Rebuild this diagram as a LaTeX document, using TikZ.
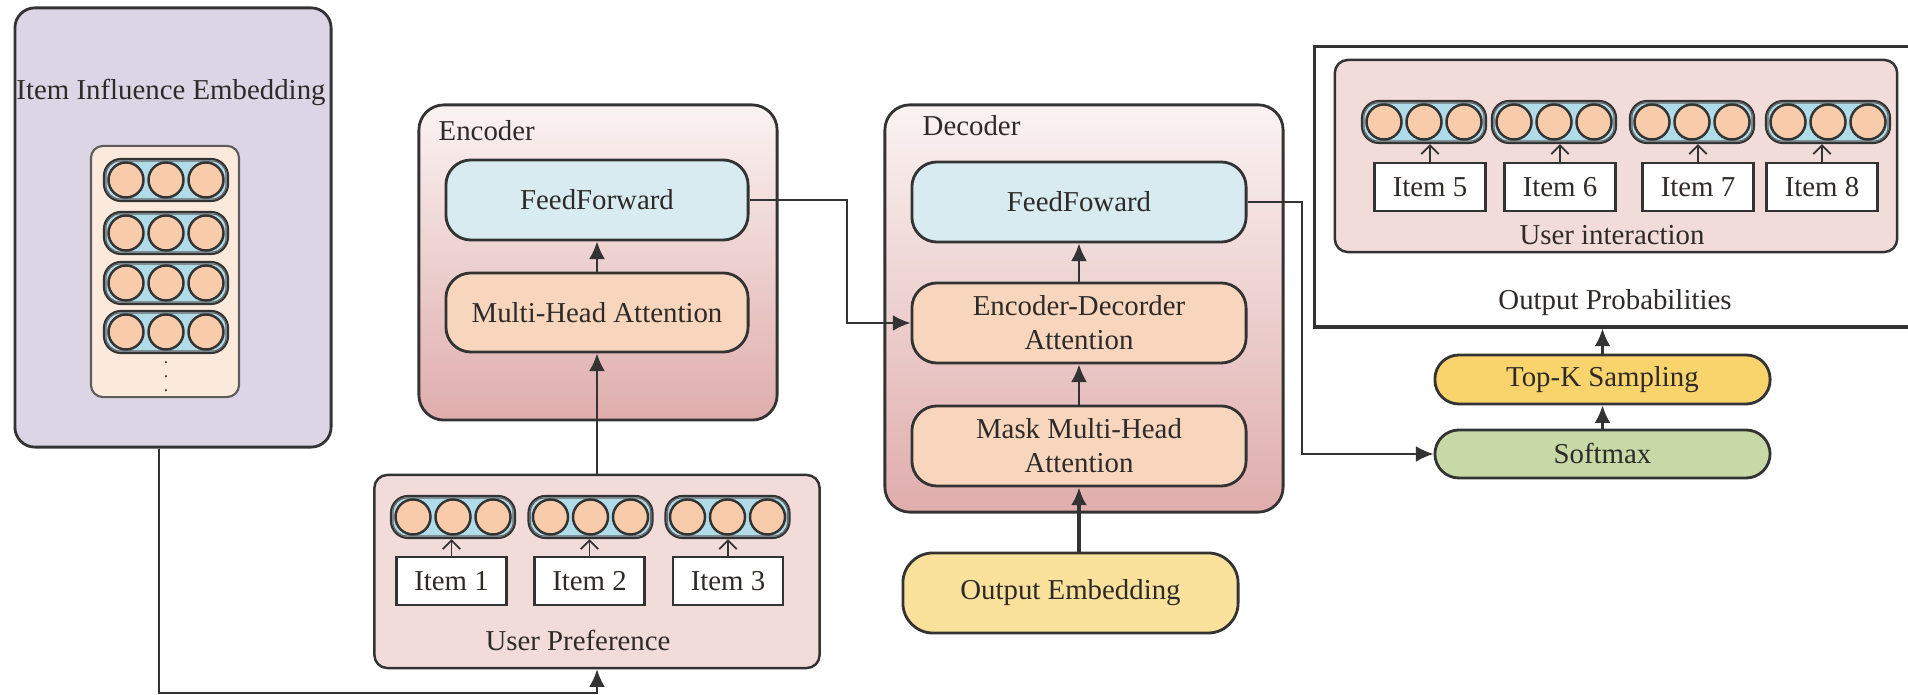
\documentclass[tikz,border=0pt]{standalone}
\usepackage{fontspec}
\setmainfont{Liberation Serif}
\usetikzlibrary{arrows.meta,calc}

\definecolor{lav}{HTML}{DCD5E6}
\definecolor{cream}{HTML}{FBEADB}
\definecolor{pillblue}{HTML}{B0DCEA}
\definecolor{bead}{HTML}{F8CCAA}
\definecolor{ffblue}{HTML}{D7EBF1}
\definecolor{attn}{HTML}{F8D6BE}
\definecolor{groupbg}{HTML}{F2DCDA}
\definecolor{encTop}{HTML}{FAF3F2}
\definecolor{encBot}{HTML}{DFADAC}
\definecolor{oemb}{HTML}{FBE29C}
\definecolor{topk}{HTML}{F9D46C}
\definecolor{smax}{HTML}{C6D9A6}
\definecolor{edge}{HTML}{333333}
\definecolor{ink}{HTML}{2E2A28}

\newcommand\fs{\fontsize{8.2}{9.6}\selectfont}

\tikzset{
  every node/.style={text=ink},
  block/.style={draw=edge, line width=0.8pt, rounded corners=0.25cm, align=center, font=\fs, inner sep=0pt},
  group/.style={draw=edge, line width=0.7pt, rounded corners=0.13cm, fill=groupbg, inner sep=0pt},
  stage/.style={draw=edge, line width=0.8pt, rounded corners=0.25cm, top color=encTop, bottom color=encBot, inner sep=0pt},
  pill/.style={draw=edge, line width=0.6pt, fill=pillblue, rounded corners=0.17cm, minimum width=1.24cm, minimum height=0.42cm, inner sep=0pt},
  beadc/.style={circle, draw=edge, line width=0.7pt, fill=bead, minimum size=0.35cm, inner sep=0pt},
  itembox/.style={draw=edge, line width=0.7pt, fill=white, minimum width=1.10cm, minimum height=0.48cm, font=\fs, inner sep=0pt},
  label/.style={font=\fs, inner sep=0pt},
  conn/.style={draw=edge, line width=0.6pt, -{Latex[length=5pt,width=4.5pt]}},
  tiny/.style={draw=edge, line width=0.5pt, -{Straight Barb[length=2.5pt,width=5pt]}},
}

% a vector of three beads in a rounded tray
\newcommand\vecrow[3]{%
  \node[pill] (#1) at (#2,#3) {};
  \draw[edge!75, line width=0.35pt, rounded corners=0.14cm]
    ($(#1.south west)+(3,-3)$) rectangle ($(#1.north east)+(-3,3)$);
  \foreach \d in {-40,0,40} \node[beadc] at ($(#1.center)+(\d,0)$) {};
}

\begin{document}
\begin{tikzpicture}[x={(0.01cm,0)}, y={(0,-0.01cm)}]
\useasboundingbox (0,0) rectangle (1908,695);

% ---------- item influence embedding ----------
\node[draw=edge, line width=0.8pt, rounded corners=0.2cm, fill=lav,
      minimum width=3.16cm, minimum height=4.39cm, inner sep=0pt] (infl) at (173,227.5) {};
\node[label] (infltitle) at (171,92) {Item Influence Embedding};
\node[draw=edge!80, line width=0.6pt, rounded corners=0.12cm, fill=cream,
      minimum width=1.48cm, minimum height=2.51cm, inner sep=0pt] (card) at (165,271.5) {};
\vecrow{r1}{166}{180}
\vecrow{r2}{166}{233}
\vecrow{r3}{166}{283}
\vecrow{r4}{166}{332}
\node[font=\fontsize{5}{5}\selectfont, inner sep=0pt] (dots) at (166,366) {$\vdots$};

% ---------- user preference ----------
\node[group, minimum width=4.45cm, minimum height=1.93cm] (up) at (597,571.5) {};
\vecrow{p1}{453}{517}
\vecrow{p2}{590.5}{517}
\vecrow{p3}{727.5}{517}
\node[itembox] (i1) at (451.5,581) {Item 1};
\node[itembox] (i2) at (589.5,581) {Item 2};
\node[itembox] (i3) at (728,581) {Item 3};
\draw[tiny] (i1.north) -- (i1.north |- p1.south);
\draw[tiny] (i2.north) -- (i2.north |- p2.south);
\draw[tiny] (i3.north) -- (i3.north |- p3.south);
\node[label] (uplabel) at (578,640) {User Preference};

% ---------- encoder ----------
\node[stage, minimum width=3.58cm, minimum height=3.15cm] (enc) at (598,262.5) {};
\node[label, anchor=west] (enclabel) at (438,131) {Encoder};
\node[block, fill=ffblue, minimum width=3.02cm, minimum height=0.80cm] (ff) at (597,200) {FeedForward};
\node[block, fill=attn, minimum width=3.02cm, minimum height=0.79cm] (mha) at (597,312.5) {Multi-Head Attention};

% ---------- decoder ----------
\node[stage, minimum width=3.98cm, minimum height=4.07cm] (dec) at (1084,308.5) {};
\node[label, anchor=west] (declabel) at (922,126) {Decoder};
\node[block, fill=ffblue, minimum width=3.34cm, minimum height=0.80cm] (dff) at (1079,202) {FeedFoward};
\node[block, fill=attn, minimum width=3.34cm, minimum height=0.80cm] (eda) at (1079,323) {Encoder-Decorder\\Attention};
\node[block, fill=attn, minimum width=3.34cm, minimum height=0.80cm] (mmha) at (1079,446) {Mask Multi-Head\\Attention};
\node[block, fill=oemb, rounded corners=0.3cm, minimum width=3.35cm, minimum height=0.80cm] (oe) at (1070.5,593) {Output Embedding};

% ---------- output side ----------
\node[block, fill=smax, rounded corners=0.24cm, minimum width=3.35cm, minimum height=0.48cm] (sm) at (1602.5,454) {Softmax};
\node[block, fill=topk, rounded corners=0.24cm, minimum width=3.35cm, minimum height=0.49cm] (tk) at (1602.5,379.5) {Top-K Sampling};
\node[draw=edge, line width=0.9pt, minimum width=5.97cm, minimum height=2.80cm, inner sep=0pt] (outbox) at (1613.5,187) {};
\node[group, minimum width=5.62cm, minimum height=1.92cm] (ui) at (1616,156) {};
\vecrow{q5}{1424}{122}
\vecrow{q6}{1554}{122}
\vecrow{q7}{1692}{122}
\vecrow{q8}{1828}{122}
\node[itembox, minimum width=1.11cm] (i5) at (1430,187) {Item 5};
\node[itembox, minimum width=1.11cm] (i6) at (1560,187) {Item 6};
\node[itembox, minimum width=1.11cm] (i7) at (1698,187) {Item 7};
\node[itembox, minimum width=1.11cm] (i8) at (1822,187) {Item 8};
\draw[tiny] (i5.north) -- (i5.north |- q5.south);
\draw[tiny] (i6.north) -- (i6.north |- q6.south);
\draw[tiny] (i7.north) -- (i7.north |- q7.south);
\draw[tiny] (i8.north) -- (i8.north |- q8.south);
\node[label] (uilabel) at (1612,235) {User interaction};
\node[label] (oplabel) at (1615,303) {Output Probabilities};

% ---------- connectors ----------
\coordinate (turnA) at (159,693);
\draw[conn] (infl.south -| turnA) -- (turnA) -| (up.south);
\draw[conn] (up.north) -- (mha.south);
\draw[conn] (mha.north) -- (ff.south);
\coordinate (turnB) at (847,200);
\draw[conn] (ff.east) -- (turnB) |- (eda.west);
\draw[conn, line width=1pt] (mmha.south |- oe.north) -- (mmha.south);
\draw[conn] (mmha.north) -- (eda.south);
\draw[conn] (eda.north) -- (dff.south);
\coordinate (turnC) at (1302,202);
\draw[conn] (dff.east) -- (turnC) |- (sm.west);
\draw[conn] (sm.north) -- (tk.south);
\draw[conn] (tk.north) -- (tk.north |- outbox.south);
\end{tikzpicture}
\end{document}
